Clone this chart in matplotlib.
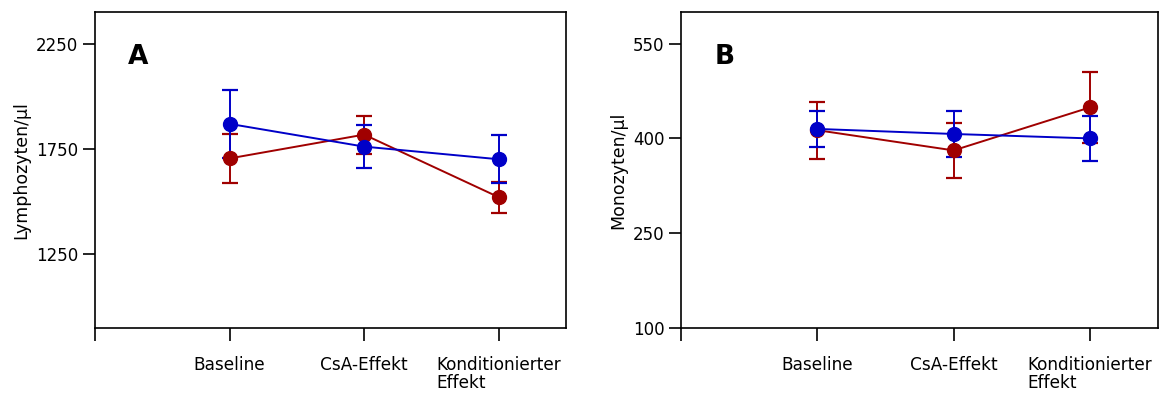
import matplotlib
matplotlib.use("Agg")
import matplotlib.pyplot as plt

categories = ["Baseline", "CsA-Effekt", "Konditionierter\nEffekt"]

# Panel A: Lymphozyten/µl
lym_red = [1705, 1818, 1521]
lym_red_err = [117, 90, 73]
lym_blue = [1869, 1761, 1701]
lym_blue_err = [163, 102, 115]

# Panel B: Monozyten/µl
mono_red = [413, 381, 449]
mono_red_err = [45, 44, 56]
mono_blue = [415, 407, 400]
mono_blue_err = [28, 36, 35]

RED = "#A00000"
BLUE = "#0000C8"

plt.rcParams['font.family'] = ['DejaVu Sans']

fig = plt.figure(figsize=(11.61, 3.94), dpi=100)
axA = fig.add_axes([95/1161, 1-328/394, (566-95)/1161, (328-12)/394])
axB = fig.add_axes([681/1161, 1-328/394, (1158-681)/1161, (328-12)/394])

def draw(ax, red, red_err, blue, blue_err, ylim, yticks, ylabel, letter):
    x = [1, 2, 3]
    for vals, errs, col in [(red, red_err, RED), (blue, blue_err, BLUE)]:
        ax.errorbar(x, vals, yerr=errs, color=col, marker='o', markersize=10,
                    linewidth=1.4, elinewidth=1.4, capsize=6, capthick=1.6)
    ax.set_xlim(0, 3.5)
    ax.set_ylim(*ylim)
    ax.set_yticks(yticks)
    ax.set_yticklabels([str(t) for t in yticks], fontsize=12)
    ax.set_xticks([0, 1, 2, 3])
    ax.set_xticklabels([""] + categories, fontsize=12.2, va='top', ha='center',
                       multialignment='left', linespacing=1.0)
    ax.tick_params(axis='x', length=9, width=1.2, pad=11)
    ax.tick_params(axis='y', length=9, width=1.2, pad=3)
    for s in ax.spines.values():
        s.set_linewidth(1.2)
    ax.set_ylabel(ylabel, fontsize=12.5, labelpad=4)
    ax.text(0.07, 0.858, letter, transform=ax.transAxes, fontsize=19,
            fontweight='bold', va='center', ha='left')

draw(axA, lym_red, lym_red_err, lym_blue, lym_blue_err, (900, 2400),
     [1250, 1750, 2250], "Lymphozyten/µl", "A")
draw(axB, mono_red, mono_red_err, mono_blue, mono_blue_err, (100, 600),
     [100, 250, 400, 550], "Monozyten/µl", "B")

fig.savefig("out.png", dpi=100)
